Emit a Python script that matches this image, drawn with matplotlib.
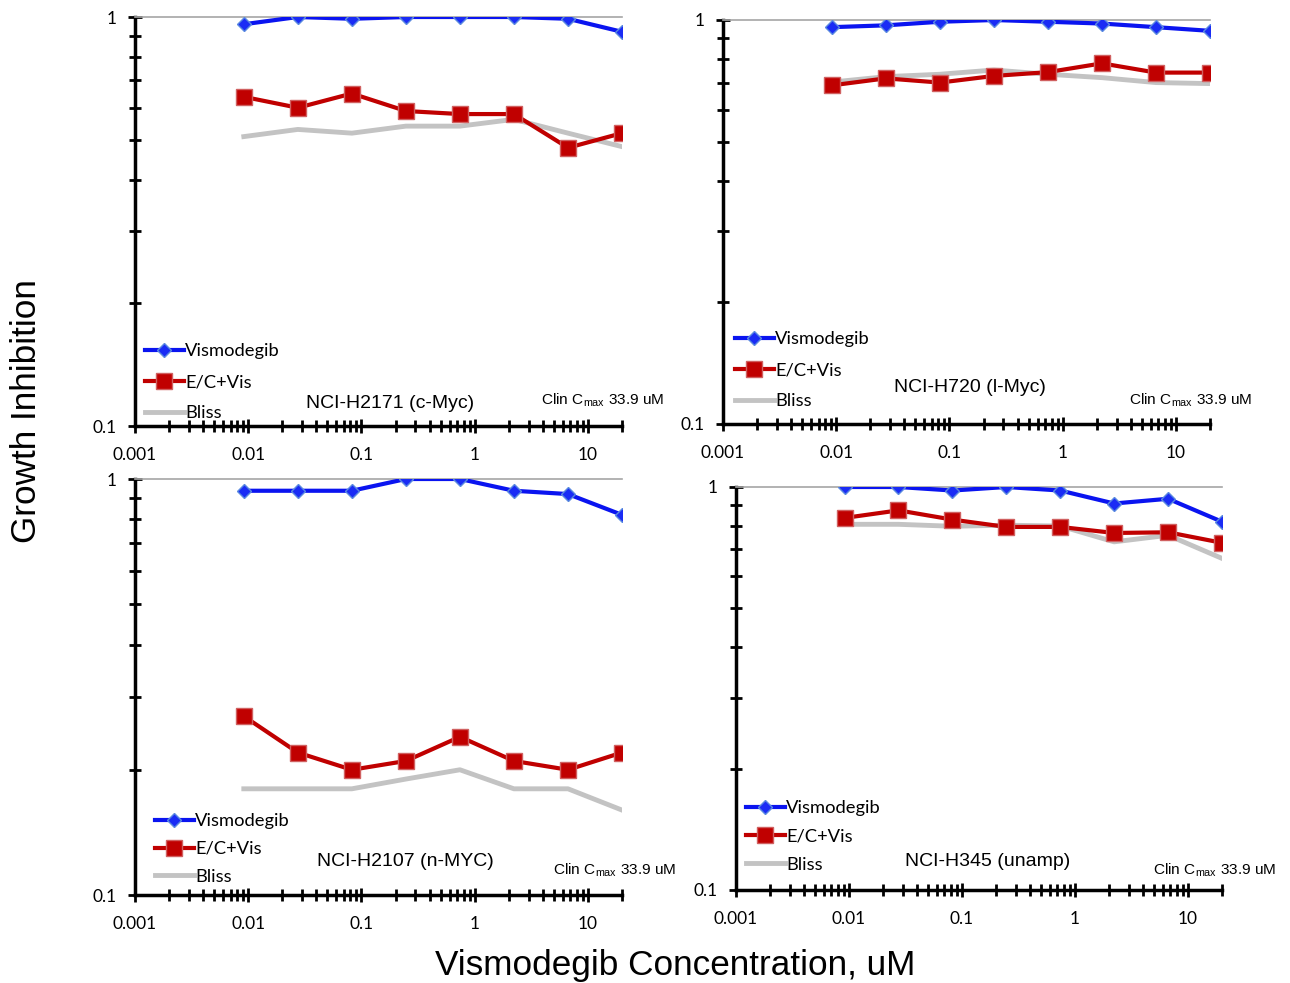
import matplotlib
matplotlib.use("Agg")
import matplotlib.pyplot as plt
from matplotlib.ticker import LogLocator, FixedLocator, FixedFormatter, NullFormatter

W, H = 1290, 983
DPI = 100

conc = [0.00914, 0.0274, 0.0823, 0.247, 0.741, 2.22, 6.67, 20.0]

panels = ["NCI-H2171 (c-Myc)", "NCI-H720 (l-Myc)", "NCI-H2107 (n-MYC)", "NCI-H345 (unamp)"]

vismodegib = [
    [0.96, 1.00, 0.99, 1.00, 1.00, 1.00, 0.99, 0.92],
    [0.96, 0.97, 0.99, 1.00, 0.99, 0.98, 0.96, 0.94],
    [0.937, 0.937, 0.937, 1.00, 1.00, 0.937, 0.92, 0.82],
    [1.00, 1.00, 0.98, 1.00, 0.98, 0.91, 0.935, 0.82],
]
ec_vis = [
    [0.638, 0.600, 0.650, 0.589, 0.579, 0.579, 0.479, 0.520],
    [0.689, 0.717, 0.700, 0.727, 0.743, 0.781, 0.741, 0.741],
    [0.269, 0.220, 0.200, 0.210, 0.240, 0.210, 0.200, 0.220],
    [0.838, 0.875, 0.830, 0.796, 0.796, 0.769, 0.772, 0.727],
]
bliss = [
    [0.510, 0.531, 0.520, 0.541, 0.541, 0.562, 0.520, 0.482],
    [0.702, 0.724, 0.734, 0.752, 0.734, 0.720, 0.700, 0.696],
    [0.180, 0.180, 0.180, 0.190, 0.200, 0.180, 0.180, 0.160],
    [0.808, 0.808, 0.799, 0.804, 0.800, 0.731, 0.759, 0.665],
]

xticks = [0.001, 0.01, 0.1, 1, 10]
xticklabels = ["0.001", "0.01", "0.1", "1", "10"]
yticks = [0.1, 1]
yticklabels = ["0.1", "1"]
series_names = ["Vismodegib", "E/C+Vis", "Bliss"]

# layout in pixels: (x_left, x_right, y_top, y_bottom)
boxes = [(135, 622, 17, 426), (723, 1210, 20, 424), (135, 622, 479, 895), (736, 1222, 487, 890)]
legend_pos = [(145, 343), (735, 331), (155, 813), (746, 800)]
legend_spacing = [0.82, 0.82, 0.65, 0.67]
title_pos = [(390, 403), (970, 387), (405, 861), (988, 861)]
cmax_pos = [(541, 400), (1129, 400), (553, 870), (1153, 870)]

fig = plt.figure(figsize=(W / DPI, H / DPI), dpi=DPI)

def fx(x):
    return x / W

def fy(y):
    return 1 - y / H

TICKFONT = "Lato"
ARIAL = "Liberation Sans"

for i in range(4):
    x0, x1, yt, yb = boxes[i]
    ax = fig.add_axes([fx(x0), fy(yb), (x1 - x0) / W, (yb - yt) / H])
    ax.set_xscale("log")
    ax.set_yscale("log")
    ax.set_xlim(0.001, 20)
    ax.set_ylim(0.1, 1)

    ax.plot(conc, vismodegib[i], color="#0a14f0", lw=3, marker="D", ms=7.5,
            mfc="#1a2cf5", mec="#5a8ae0", mew=1.0, label=series_names[0], zorder=4)
    ax.plot(conc, ec_vis[i], color="#c00000", lw=3, marker="s", ms=12,
            mfc="#c00000", mec="#d06060", mew=1.0, label=series_names[1], zorder=3)
    ax.plot(conc, bliss[i], color="#c3c3c3", lw=3.5, label=series_names[2], zorder=2)

    for s in ["left", "bottom"]:
        ax.spines[s].set_linewidth(2.5)
        ax.spines[s].set_color("black")
    ax.spines["right"].set_visible(False)
    ax.spines["top"].set_color("#a6a6a6")
    ax.spines["top"].set_linewidth(1.2)

    ax.xaxis.set_major_locator(FixedLocator(xticks))
    ax.xaxis.set_major_formatter(FixedFormatter(xticklabels))
    ax.xaxis.set_minor_locator(LogLocator(base=10, subs=range(2, 10), numticks=20))
    ax.xaxis.set_minor_formatter(NullFormatter())
    ax.yaxis.set_major_locator(FixedLocator(yticks))
    ax.yaxis.set_major_formatter(FixedFormatter(yticklabels))
    ax.yaxis.set_minor_locator(LogLocator(base=10, subs=range(2, 10), numticks=20))
    ax.yaxis.set_minor_formatter(NullFormatter())

    ax.tick_params(which="both", direction="inout", width=2, color="black")
    ax.tick_params(which="major", length=10)
    ax.tick_params(which="minor", length=9)
    ax.tick_params(axis="x", which="major", pad=10, labelsize=12.5)
    ax.tick_params(axis="y", which="major", pad=8, labelsize=12.5)
    for lab in ax.get_xticklabels() + ax.get_yticklabels():
        lab.set_fontfamily(TICKFONT)

    lx, ly = legend_pos[i]
    ax.legend(loc="upper left", bbox_to_anchor=(fx(lx), fy(ly)),
              bbox_transform=fig.transFigure, frameon=False,
              prop={"family": TICKFONT, "size": 13.2},
              handlelength=2.1, handletextpad=0.08, labelspacing=legend_spacing[i],
              borderpad=0, borderaxespad=0)

    tx, ty = title_pos[i]
    fig.text(fx(tx), fy(ty), panels[i], ha="center", va="center",
             fontsize=14, family=ARIAL)
    cx, cy = cmax_pos[i]
    fig.text(fx(cx), fy(cy), r"Clin C$_{\mathregular{max}}$ 33.9 uM", ha="left", va="center",
             fontsize=11.1, family=ARIAL)

fig.text(fx(27), fy(411), "Growth Inhibition", rotation=90, ha="center", va="center",
         fontsize=25.3, family=ARIAL)
fig.text(fx(675), fy(965), "Vismodegib Concentration, uM", ha="center", va="center",
         fontsize=25.3, family=ARIAL)

fig.savefig("out.png", dpi=DPI)
